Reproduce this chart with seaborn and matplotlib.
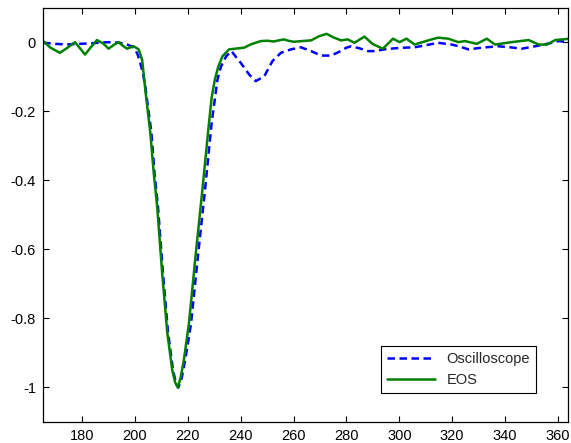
"""
Oscilloscope vs EOS pulse comparison - MATLAB-style line chart.
"""

import matplotlib

matplotlib.use("Agg")
import matplotlib.pyplot as plt
import pandas as pd
import seaborn as sns

# Oscilloscope trace
osc_x = [
    165.3, 170, 174.2, 178, 183, 187, 191.9, 195, 197, 199, 200.1, 201, 202,
    203, 203.9, 205.2, 206.2, 207.4, 208.7, 210.6, 212.5, 214.4, 215.6, 216.4,
    217.6, 219, 221.2, 223.8, 226.5, 229, 231.2, 232.5, 234.5, 236.5, 238,
    240, 243.2, 245.7, 248.9, 252, 255.2, 259, 262.8, 266.6, 270.4, 274.2,
    277, 280, 281.8, 285, 288.1, 290.6, 294.4, 298, 302, 305.8, 310, 314.7,
    319.8, 323, 326.1, 331.2, 337.5, 342, 346.3, 351.4, 356.5, 360.3, 364.6,
]
osc_y = [
    -0.001, -0.004, -0.006, -0.004, -0.003, 0.0, 0.001, -0.002, -0.006,
    -0.012, -0.02, -0.035, -0.059, -0.09, -0.127, -0.204, -0.26, -0.38,
    -0.476, -0.67, -0.84, -0.95, -0.99, -1.0, -0.975, -0.92, -0.815, -0.62,
    -0.427, -0.233, -0.108, -0.07, -0.04, -0.025, -0.04, -0.059, -0.093,
    -0.112, -0.098, -0.054, -0.03, -0.02, -0.014, -0.025, -0.038, -0.038,
    -0.028, -0.015, -0.011, -0.017, -0.025, -0.025, -0.02, -0.017, -0.015,
    -0.014, -0.008, -0.001, -0.006, -0.012, -0.02, -0.015, -0.011, -0.014,
    -0.018, -0.011, -0.003, 0.004, 0.001,
]

# EOS trace
eos_x = [
    165.3, 168, 171.6, 174.5, 177.3, 179, 181.1, 183.5, 185.6, 188, 190,
    192, 193.8, 195.5, 197, 199.5, 201.4, 202.7, 203.9, 205.8, 207.1, 208.4,
    210.3, 212.2, 214.1, 215.2, 216.2, 217.3, 218.5, 220.4, 222.9, 225.5,
    228, 229, 230.2, 231.5, 233.1, 235.6, 238, 241.3, 244, 247.6, 250, 252.5,
    256.3, 258, 260.1, 263, 266.6, 269.6, 272.5, 275, 278, 280.5, 283, 286.8,
    290, 293.8, 297.6, 300.1, 302.7, 305.8, 310.9, 314.7, 318.5, 322.3,
    324.8, 329.3, 333.1, 336.2, 342.5, 348.9, 352.7, 355.8, 359, 364.6,
]
eos_y = [
    0.004, -0.015, -0.03, -0.015, 0.001, -0.015, -0.035, -0.012, 0.007,
    -0.003, -0.018, -0.007, 0.001, -0.01, -0.018, -0.011, -0.02, -0.05,
    -0.137, -0.262, -0.379, -0.476, -0.67, -0.84, -0.95, -0.985, -1.0,
    -0.97, -0.92, -0.815, -0.62, -0.427, -0.233, -0.16, -0.108, -0.07,
    -0.04, -0.02, -0.018, -0.015, -0.005, 0.004, 0.005, 0.003, 0.009, 0.005,
    0.002, 0.004, 0.006, 0.018, 0.025, 0.015, 0.006, 0.009, -0.001, 0.017,
    -0.005, -0.018, 0.011, 0.001, 0.011, -0.006, 0.006, 0.014, 0.011, 0.001,
    0.004, -0.004, 0.011, -0.006, 0.001, 0.007, -0.006, -0.006, 0.007, 0.011,
]

x_ticks = [180, 200, 220, 240, 260, 280, 300, 320, 340, 360]
y_ticks = [0, -0.2, -0.4, -0.6, -0.8, -1]
y_tick_labels = ["0", "-0.2", "-0.4", "-0.6", "-0.8", "-1"]

sns.set_style("ticks")
plt.rcParams["font.family"] = ["Liberation Sans", "DejaVu Sans"]
plt.rcParams["xtick.direction"] = "in"
plt.rcParams["ytick.direction"] = "in"

osc = pd.DataFrame({"x": osc_x, "y": osc_y})
eos = pd.DataFrame({"x": eos_x, "y": eos_y})

fig = plt.figure(figsize=(5.71, 4.43), dpi=100)
ax = fig.add_axes([0.0753, 0.0474, 0.9194, 0.9346])

sns.lineplot(data=osc, x="x", y="y", ax=ax, sort=False, color="#0000ff",
             linewidth=1.8, label="Oscilloscope")
ax.lines[-1].set_dashes((3, 1.8))
sns.lineplot(data=eos, x="x", y="y", ax=ax, sort=False, color="#008000",
             linewidth=1.8, label="EOS")
for line in ax.lines:
    line.set_solid_joinstyle("round")
    line.set_dash_joinstyle("round")

ax.set_xlim(165.2, 363.8)
ax.set_ylim(-1.1, 0.1)
ax.set_xticks(x_ticks)
ax.set_yticks(y_ticks)
ax.set_yticklabels(y_tick_labels)
ax.set_xlabel("")
ax.set_ylabel("")
ax.tick_params(axis="both", labelsize=10.5, length=4, width=0.8,
               top=True, right=True, colors="black", pad=5)
for spine in ax.spines.values():
    spine.set_visible(True)
    spine.set_color("black")
    spine.set_linewidth(0.9)

leg = ax.legend(loc="lower right", bbox_to_anchor=(0.939, 0.07),
                borderaxespad=0, fontsize=10.5, handlelength=3.3,
                fancybox=False, framealpha=1, edgecolor="black")
leg.get_frame().set_linewidth(0.8)

fig.savefig("out.png", dpi=100)
